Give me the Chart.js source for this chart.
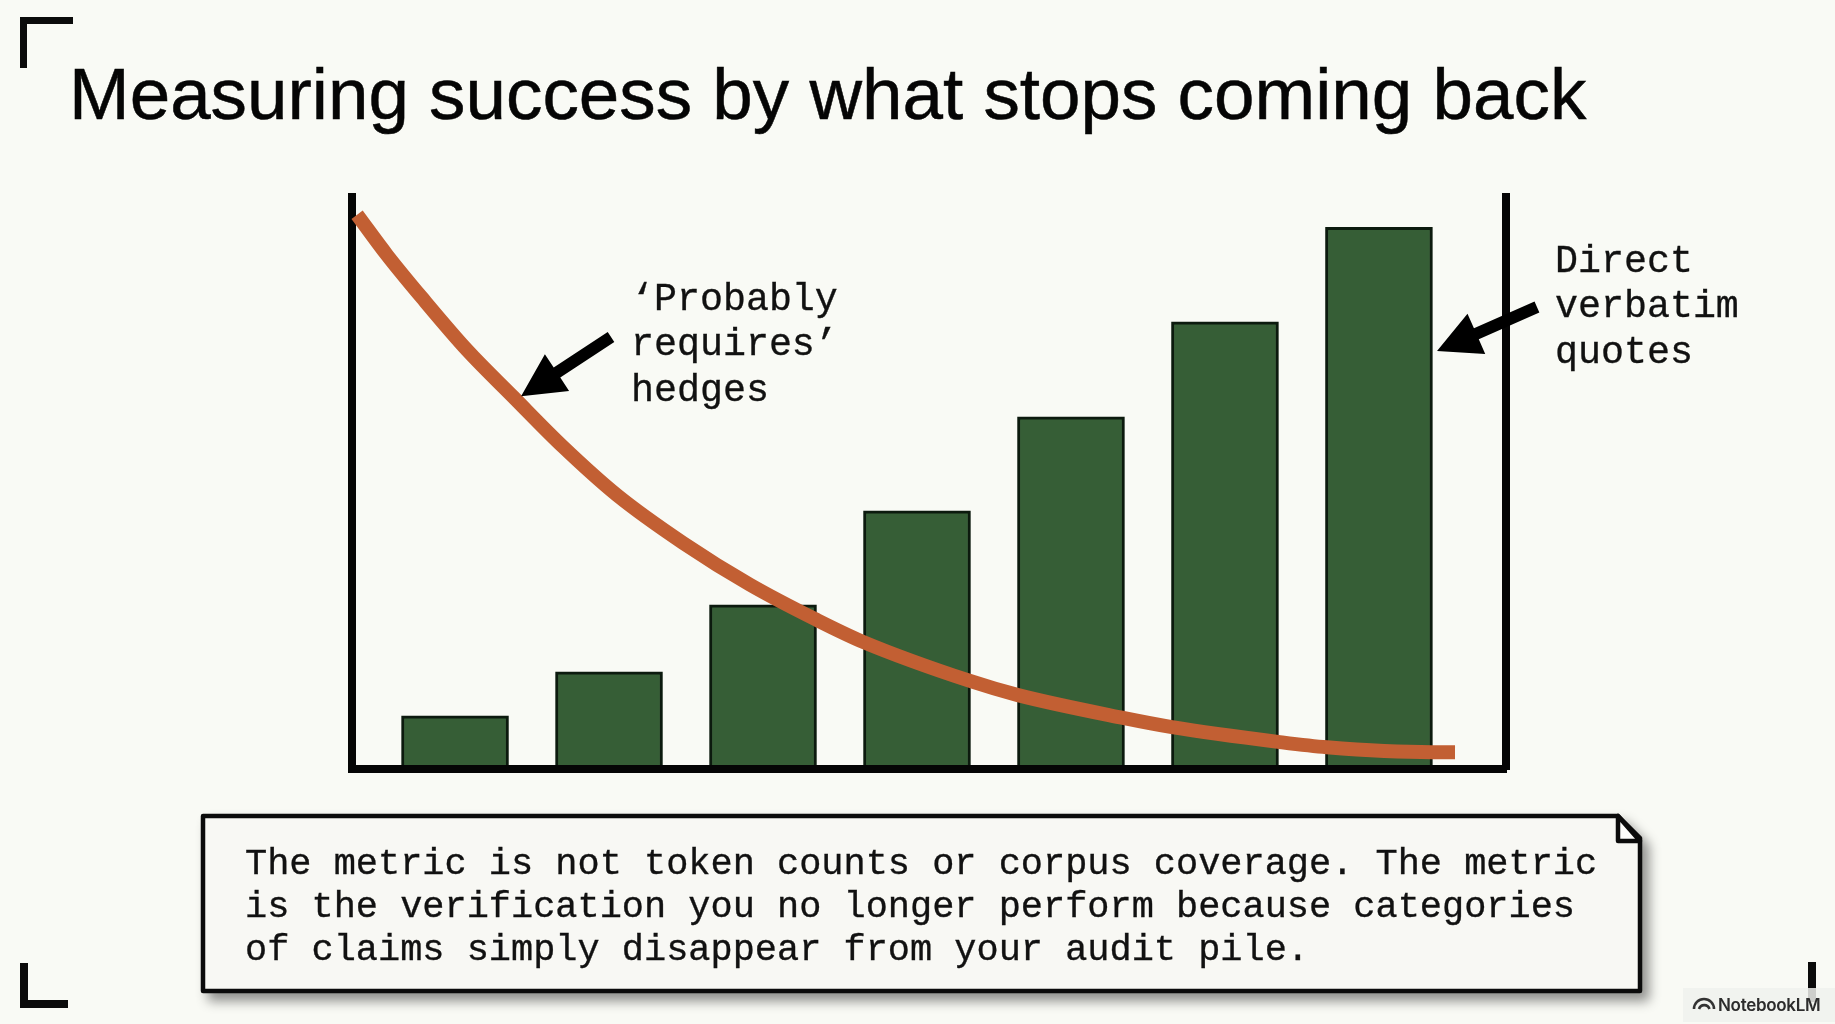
<!DOCTYPE html>
<html>
<head>
<meta charset="utf-8">
<script src="https://cdn.jsdelivr.net/npm/chart.js@4"></script>
<style>
  html, body { margin: 0; padding: 0; background: #f9faf5; }
  #page { position: relative; width: 1835px; height: 1024px; overflow: hidden; background: #f9faf5; }
  #grafico { position: absolute; left: 0; top: 0; }
  .mono { position: absolute; font-family: "Liberation Mono", monospace; color: #111; white-space: pre; }
  .anno { font-size: 38.3px; line-height: 45.4px; -webkit-text-stroke: 0.35px #111; }
  #titulo { position: absolute; left: 69px; top: 54px; font: 400 72.8px/80px "Liberation Sans", Arial, sans-serif; color: #050505; white-space: pre; -webkit-text-stroke: 0.5px #050505; }
  #nota { left: 245px; top: 843px; font-size: 36.95px; line-height: 43px; -webkit-text-stroke: 0.35px #111; }
  .canto { position: absolute; background: #0b0b0b; }
  #selo { position: absolute; left: 1683px; top: 988px; width: 152px; height: 34px; background: rgba(240, 241, 237, 0.85); }
  #selo span { position: absolute; left: 35px; top: 6px; font: 600 17px/22px Inter, sans-serif; color: #2c2c2c; letter-spacing: -0.3px; }
  svg { position: absolute; left: 0; top: 0; }
</style>
</head>
<body>
<div id="page">
  <canvas id="grafico" width="1835" height="1024"></canvas>

  <div id="titulo">Measuring success by what stops coming back</div>

  <div class="mono anno" style="left:631px; top:278px">‘Probably
requires’
hedges</div>
  <div class="mono anno" style="left:1555px; top:240px">Direct
verbatim
quotes</div>

  <svg width="1835" height="1024">
    <path d="M203 816 H1618 L1640 838 V991 H203 Z" fill="#f8f8f4" stroke="#0b0b0b" stroke-width="4.5" stroke-linejoin="round" style="filter: drop-shadow(7px 8px 6px rgba(0,0,0,0.42))"/>
    <path d="M1618 816 V841 H1640 Z" fill="#fdfdfb" stroke="#0b0b0b" stroke-width="4.5" stroke-linejoin="round"/>
  </svg>
  <div class="mono" id="nota">The metric is not token counts or corpus coverage. The metric
is the verification you no longer perform because categories
of claims simply disappear from your audit pile.</div>

  <div class="canto" style="left:20px; top:17px; width:53px; height:7px"></div>
  <div class="canto" style="left:20px; top:17px; width:7px; height:51px"></div>
  <div class="canto" style="left:20px; top:963px; width:8px; height:45px"></div>
  <div class="canto" style="left:20px; top:1000px; width:48px; height:8px"></div>
  <div class="canto" style="left:1808px; top:962px; width:8px; height:40px"></div>

  <div id="selo">
    <svg width="26" height="20" style="left:9px; top:4px" viewBox="0 0 26 20">
      <path d="M2 17 A10 10 0 0 1 22 17 M7 17 A5.5 5.5 0 0 1 17.5 17" fill="none" stroke="#333" stroke-width="2.6"/>
    </svg>
    <span>NotebookLM</span>
  </div>
</div>

<script>
// valores
const barPositions = [1, 2, 3, 4, 5, 6, 7];
const barValues = [9.8, 17.9, 30.2, 47.5, 64.8, 82.3, 99.7];

const curveX = [0.364, 0.558, 0.786, 1.078, 1.377, 1.701, 2.052, 2.481, 2.916, 3.351, 3.649, 4.344, 4.656, 5.338, 5.656, 6.344, 6.662, 7.344, 7.494];
const curveY = [102, 94.6, 86.7, 77.1, 68.5, 59.3, 50.4, 41.6, 33.9, 27.4, 23.4, 16.2, 13.6, 9.4, 7.7, 5.0, 4.0, 3.1, 3.1];

const yMax = 105.26;
const xMin = 0.331;
const xMax = 7.825;

// setas: cauda -> ponta, em unidades dos eixos
const arrows = [
  { fromX: 2.013, fromY: 79.5, toX: 1.429, toY: 68.6 },
  { fromX: 8.026, fromY: 85.0, toX: 7.377, toY: 76.9 },
];

const noSize = function(scale) {
  if (scale.isHorizontal()) scale.height = 0;
  else scale.width = 0;
};

const setas = {
  id: "setas",
  afterDraw(chart) {
    const ctx = chart.ctx;
    const x = chart.scales.x;
    const y = chart.scales.y;

    arrows.forEach(function(a) {
      const x1 = x.getPixelForValue(a.fromX);
      const y1 = y.getPixelForValue(a.fromY);
      const x2 = x.getPixelForValue(a.toX);
      const y2 = y.getPixelForValue(a.toY);
      const size = Math.hypot(x2 - x1, y2 - y1);
      ctx.save();
      ctx.translate(x2, y2);
      ctx.rotate(Math.atan2(y2 - y1, x2 - x1));
      ctx.fillStyle = "#000";
      ctx.beginPath();
      ctx.moveTo(0, 0);
      ctx.lineTo(-43, -22);
      ctx.lineTo(-43, -6);
      ctx.lineTo(-size, -6);
      ctx.lineTo(-size, 6);
      ctx.lineTo(-43, 6);
      ctx.lineTo(-43, 22);
      ctx.closePath();
      ctx.fill();
      ctx.restore();
    });
  },
};

const ctxGrafico = document.getElementById("grafico").getContext("2d");
const grafico = new Chart(ctxGrafico, {
  data: {
    datasets: [
      {
        type: "line",
        label: "Probably requires hedges",
        data: curveX.map((v, i) => ({ x: v, y: curveY[i] })),
        borderColor: "#c25f33",
        borderWidth: 14,
        pointRadius: 0,
        cubicInterpolationMode: "monotone",
        borderCapStyle: "butt",
        clip: false,
        order: 0,
      },
      {
        type: "bar",
        label: "Direct verbatim quotes",
        data: barPositions.map((v, i) => ({ x: v, y: barValues[i] })),
        backgroundColor: "#365e36",
        borderColor: "#0c1a0e",
        borderWidth: 3,
        barThickness: 107,
        order: 1,
      },
    ],
  },
  options: {
    responsive: false,
    animation: false,
    devicePixelRatio: 1,
    layout: { padding: { left: 352, right: 329, top: 197, bottom: 255 } },
    plugins: {
      legend: { display: false },
      tooltip: { enabled: false },
    },
    scales: {
      x: {
        type: "linear",
        offset: false,
        min: xMin,
        max: xMax,
        afterFit: noSize,
        grid: { display: false },
        ticks: { display: false },
        border: { color: "#050505", width: 8, z: 1 },
      },
      y: {
        position: "left",
        min: 0,
        max: yMax,
        afterFit: noSize,
        grid: { display: false },
        ticks: { display: false },
        border: { color: "#050505", width: 8 },
      },
      yDireita: {
        position: "right",
        min: 0,
        max: yMax,
        afterFit: noSize,
        grid: { display: false },
        ticks: { display: false },
        border: { color: "#050505", width: 8 },
      },
    },
  },
  plugins: [setas],
});
</script>
</body>
</html>
